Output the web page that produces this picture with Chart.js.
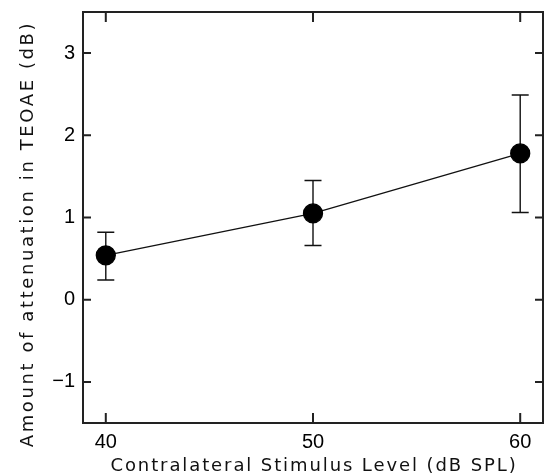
<!DOCTYPE html>
<html>
<head>
<meta charset="utf-8">
<script src="https://cdn.jsdelivr.net/npm/chart.js@4"></script>
<style>
  html, body { margin: 0; padding: 0; background: #fff; }
  #wrap { width: 545px; height: 476px; }
</style>
</head>
<body>
<div id="wrap"><canvas id="chart"></canvas></div>
<script>
const levels = [40, 50, 60];
const attenuation = [0.54, 1.05, 1.78];
const errLow = [0.24, 0.66, 1.06];
const errHigh = [0.82, 1.45, 2.49];
const xTicks = [40, 50, 60];
const yTicks = [-1, 0, 1, 2, 3];
const xTitle = 'Contralateral Stimulus Level (dB SPL)';
const yTitle = 'Amount of attenuation in TEOAE (dB)';

const frameColor = '#222';
const titleFont = '18px "DejaVu Sans"';

// box, inward ticks, error bars and the spaced-out axis titles
const framePlugin = {
  id: 'frame',
  beforeDatasetsDraw(chart) {
    const { ctx, scales } = chart;
    ctx.save();
    ctx.strokeStyle = '#111';
    ctx.lineWidth = 1.4;
    chart.data.datasets[0].data.forEach((p, i) => {
      const x = scales.x.getPixelForValue(p.x);
      const lo = scales.y.getPixelForValue(errLow[i]);
      const hi = scales.y.getPixelForValue(errHigh[i]);
      ctx.beginPath();
      ctx.moveTo(x, lo); ctx.lineTo(x, hi);
      ctx.moveTo(x - 8.5, lo); ctx.lineTo(x + 8.5, lo);
      ctx.moveTo(x - 8.5, hi); ctx.lineTo(x + 8.5, hi);
      ctx.stroke();
    });
    ctx.restore();
  },
  afterDraw(chart) {
    const { ctx, chartArea: a, scales } = chart;
    ctx.save();
    ctx.strokeStyle = frameColor;
    ctx.lineWidth = 2;
    ctx.strokeRect(a.left, a.top, a.right - a.left, a.bottom - a.top);
    ctx.beginPath();
    xTicks.forEach(v => {
      const x = scales.x.getPixelForValue(v);
      ctx.moveTo(x, a.bottom); ctx.lineTo(x, a.bottom - 10);
      ctx.moveTo(x, a.top); ctx.lineTo(x, a.top + 10);
    });
    yTicks.forEach(v => {
      const y = scales.y.getPixelForValue(v);
      ctx.moveTo(a.left, y); ctx.lineTo(a.left + 8, y);
      ctx.moveTo(a.right, y); ctx.lineTo(a.right - 8, y);
    });
    ctx.stroke();

    ctx.fillStyle = '#111';
    ctx.font = titleFont;
    ctx.textAlign = 'center';
    ctx.textBaseline = 'middle';
    ctx.letterSpacing = '1.9px';
    ctx.fillText(xTitle, (a.left + a.right) / 2 + 1, 466);
    ctx.letterSpacing = '2.6px';
    ctx.translate(28, 234);
    ctx.rotate(-Math.PI / 2);
    ctx.fillText(yTitle, 0, 0);
    ctx.restore();
  }
};

new Chart(document.getElementById('chart'), {
  type: 'line',
  data: {
    datasets: [{
      data: levels.map((x, i) => ({ x: x, y: attenuation[i] })),
      borderColor: '#111',
      borderWidth: 1.3,
      pointRadius: 9.5,
      pointHoverRadius: 9.5,
      pointBackgroundColor: '#000',
      pointBorderColor: '#000',
      tension: 0
    }]
  },
  options: {
    responsive: true,
    maintainAspectRatio: false,
    animation: false,
    layout: { autoPadding: false, padding: { top: 12, right: 2, left: 0, bottom: 0 } },
    plugins: { legend: { display: false }, tooltip: { enabled: false } },
    scales: {
      x: {
        type: 'linear',
        min: 38.9,
        max: 61.1,
        afterBuildTicks: s => { s.ticks = xTicks.map(v => ({ value: v })); },
        afterFit: s => { s.height = 53; s.paddingLeft = 0; s.paddingRight = 0; },
        grid: { display: false, drawTicks: false },
        border: { display: false },
        ticks: {
          color: '#000',
          padding: 7,
          maxRotation: 0,
          font: { family: 'Liberation Sans', size: 20 }
        }
      },
      y: {
        min: -1.5,
        max: 3.5,
        afterBuildTicks: s => { s.ticks = yTicks.map(v => ({ value: v })); },
        afterFit: s => { s.width = 83; s.paddingTop = 0; s.paddingBottom = 0; },
        grid: { display: false, drawTicks: false },
        border: { display: false },
        ticks: {
          color: '#000',
          padding: 8,
          font: { family: 'Liberation Sans', size: 20 },
          callback: v => String(v).replace('-', '\u2212')
        }
      }
    }
  },
  plugins: [framePlugin]
});
</script>
</body>
</html>
